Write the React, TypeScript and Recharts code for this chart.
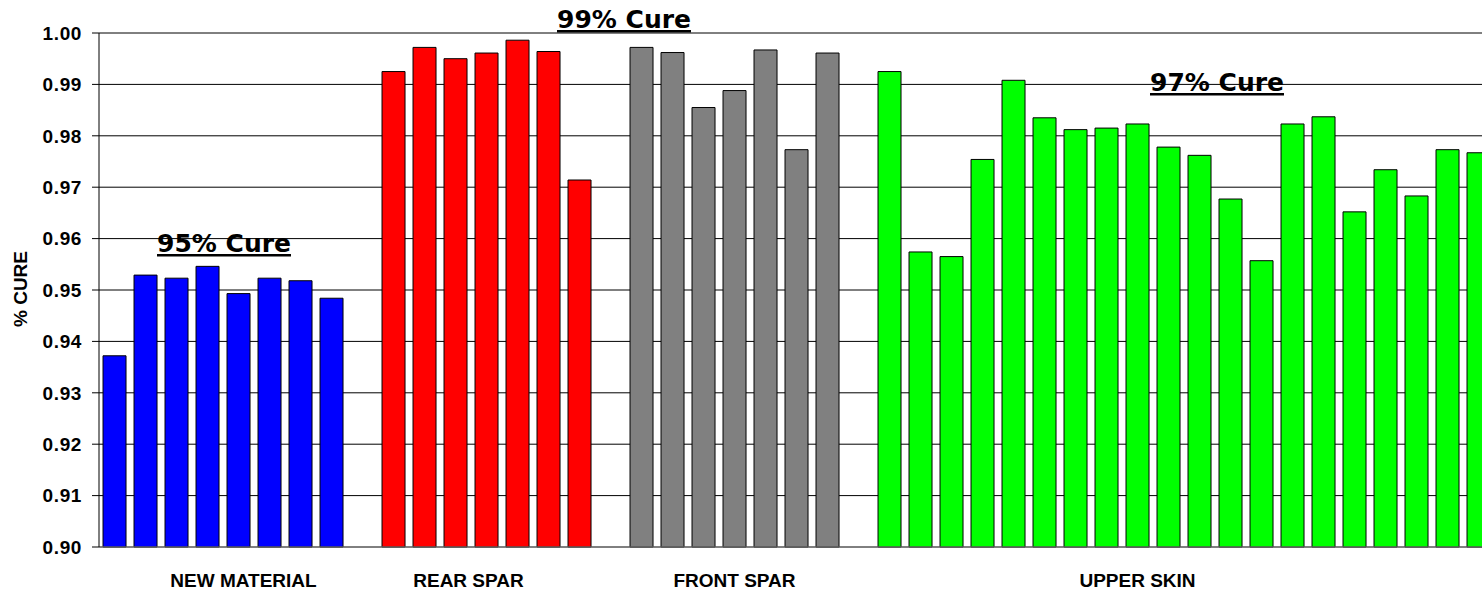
import { BarChart, Bar, Cell, XAxis, YAxis, CartesianGrid, ReferenceLine } from "recharts";

// cure fraction per sample
const newMaterial = [0.9372, 0.9529, 0.9523, 0.9546, 0.9493, 0.9523, 0.9518, 0.9484];
const rearSpar = [0.9925, 0.9972, 0.995, 0.9961, 0.9986, 0.9964, 0.9714];
const frontSpar = [0.9972, 0.9962, 0.9855, 0.9888, 0.9967, 0.9773, 0.9961];
const upperSkin = [
    0.9925, 0.9574, 0.9565, 0.9754, 0.9908, 0.9835, 0.9812, 0.9815, 0.9823, 0.9778,
    0.9762, 0.9677, 0.9557, 0.9823, 0.9837, 0.9652, 0.9734, 0.9683, 0.9773, 0.9767,
];

const groupNames = ["NEW MATERIAL", "REAR SPAR", "FRONT SPAR", "UPPER SKIN"];
const groupValues = [newMaterial, rearSpar, frontSpar, upperSkin];
// which bar of each group carries the group's label
const labelBar = [4, 2, 3, 8];

const yTicks = [0.9, 0.91, 0.92, 0.93, 0.94, 0.95, 0.96, 0.97, 0.98, 0.99, 1.0];

const COLORS = ["#0000FF", "#FF0000", "#808080", "#00FF00"];
// small nudges so the group labels sit where the original put them
const LABEL_DX: Record<string, number> = {
    "NEW MATERIAL": 5,
    "REAR SPAR": 13,
    "FRONT SPAR": 0,
    "UPPER SKIN": 0,
};

type Row = { id: string; value: number | null; color: string; label: string };

const rows: Row[] = [];
groupValues.forEach((vals, g) => {
    vals.forEach((v, i) => {
        rows.push({
            id: `g${g}-${i}`,
            value: v,
            color: COLORS[g],
            label: i === labelBar[g] ? groupNames[g] : "",
        });
    });
    if (g < groupValues.length - 1) {
        rows.push({ id: `gap${g}`, value: null, color: "none", label: "" });
    }
});

const labelById: Record<string, string> = {};
rows.forEach((r) => (labelById[r.id] = r.label));

const FONT = "'Liberation Sans', Arial, sans-serif";
const NOTE_FONT = "'DejaVu Sans', Verdana, sans-serif";

function GroupTick(props: any) {
    const { x, y, payload } = props;
    const label = labelById[payload.value];
    if (!label) return null;
    return (
        <text
            x={x + (LABEL_DX[label] ?? 0)}
            y={y + 40}
            textAnchor="middle"
            fontFamily={FONT}
            fontWeight="bold"
            fontSize={19}
            fill="#000"
        >
            {label}
        </text>
    );
}

export default function App() {
    return (
        <div
            style={{
                position: "fixed",
                left: 0,
                top: 0,
                width: 1482,
                height: 590,
                overflow: "hidden",
                background: "#fff",
            }}
        >
            <BarChart
                width={1494}
                height={590}
                data={rows}
                margin={{ top: 33, right: 0, bottom: 0, left: 0 }}
                barCategoryGap="13%"
            >
                <CartesianGrid vertical={false} stroke="#000" strokeWidth={1} />
                <XAxis
                    dataKey="id"
                    interval={0}
                    height={43}
                    tickSize={0}
                    tickMargin={0}
                    tickLine={false}
                    axisLine={{ stroke: "#808080", strokeWidth: 1 }}
                    tick={<GroupTick />}
                />
                <YAxis
                    width={99}
                    domain={[0.9, 1.0]}
                    ticks={yTicks}
                    interval={0}
                    tickSize={7}
                    tickMargin={10}
                    tickFormatter={(v: number) => v.toFixed(2)}
                    axisLine={{ stroke: "#000", strokeWidth: 1 }}
                    tickLine={{ stroke: "#000", strokeWidth: 1 }}
                    tick={{
                        fill: "#000",
                        fontSize: 19,
                        fontWeight: "bold",
                        fontFamily: FONT,
                        letterSpacing: 0.6,
                    }}
                />
                <ReferenceLine y={1.0} stroke="#808080" strokeWidth={1} />
                <Bar dataKey="value" stroke="#000" strokeWidth={1} isAnimationActive={false}>
                    {rows.map((r) => (
                        <Cell key={r.id} fill={r.color} />
                    ))}
                </Bar>
            </BarChart>
            <svg
                width={1482}
                height={590}
                style={{ position: "absolute", left: 0, top: 0, pointerEvents: "none" }}
            >
                <text
                    transform="translate(27,289) rotate(-90)"
                    textAnchor="middle"
                    fontFamily={FONT}
                    fontWeight="bold"
                    fontSize={19}
                    fill="#000"
                >
                    % CURE
                </text>
                <g
                    fontFamily={NOTE_FONT}
                    fontWeight="bold"
                    fontSize={25}
                    fill="#000"
                    textDecoration="underline"
                >
                    <text x={157} y={252}>95% Cure</text>
                    <text x={557} y={28}>99% Cure</text>
                    <text x={1150} y={91}>97% Cure</text>
                </g>
            </svg>
        </div>
    );
}
